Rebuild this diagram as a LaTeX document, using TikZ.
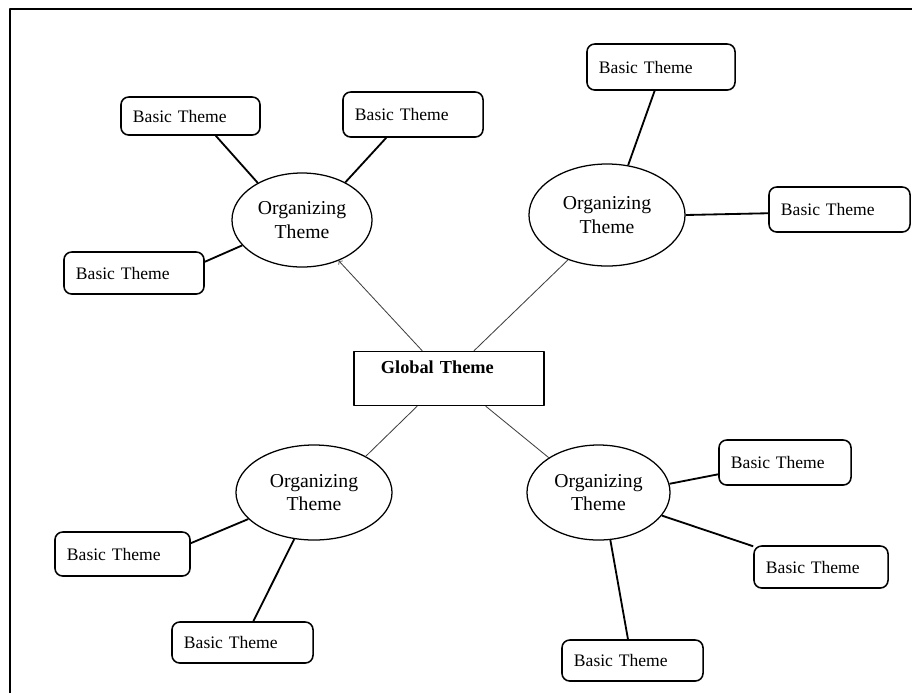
\documentclass[tikz,border=0pt]{standalone}
\usepackage{fontspec}
\setmainfont{Liberation Serif}
\usetikzlibrary{shapes.geometric}
\begin{document}
\begin{tikzpicture}[x=0.025cm, y=-0.025cm, line join=round,
 basic/.style 2 args={draw, line width=1.1pt, rounded corners=5.5pt, align=left, inner xsep=0.3cm, text width=#1, minimum height=#2, font=\fontsize{12.5}{14}\selectfont},
 org/.style={draw, ellipse, line width=0.9pt, inner sep=0pt, align=center, font=\fontsize{14}{16.5}\selectfont},
 link/.style={line width=1.3pt},
 thinlink/.style={line width=0.6pt, black!75}]
\useasboundingbox (0,0) rectangle (912,693);
\draw[line width=1.4pt] (10,693) -- (10,9) -- (912,9);

\node[draw, line width=0.9pt, align=left, text width=3.4cm, inner xsep=0.675cm, inner ysep=0.25cm, text height=0.3cm, text depth=0.55cm, font=\fontsize{13}{15}\selectfont\bfseries] (glob) at (449,378.5) {Global Theme};

\node[org, minimum width=3.5cm, minimum height=2.35cm] (otl) at (302,220) {Organizing\\Theme};
\node[org, minimum width=3.9cm, minimum height=2.55cm] (otr) at (607,215) {Organizing\\Theme};
\node[org, minimum width=3.9cm, minimum height=2.375cm] (obl) at (314,492.5) {Organizing\\Theme};
\node[org, minimum width=3.575cm, minimum height=2.375cm] (obr) at (598.5,492.5) {Organizing\\Theme};

\node[basic={2.875cm}{0.95cm}] (tl1) at (190.5,116) {Basic Theme};
\node[basic={2.9cm}{1.125cm}] (tl2) at (413,114.5) {Basic Theme};
\node[basic={2.9cm}{1.05cm}] (tl3) at (134,273) {Basic Theme};
\node[basic={3.1cm}{1.15cm}] (tr1) at (661,67) {Basic Theme};
\node[basic={2.925cm}{1.125cm}] (tr2) at (839.5,209.5) {Basic Theme};
\node[basic={2.775cm}{1.1cm}] (bl1) at (122.5,554) {Basic Theme};
\node[basic={2.925cm}{1.025cm}] (bl2) at (242.5,642.5) {Basic Theme};
\node[basic={2.7cm}{1.125cm}] (br1) at (785,462.5) {Basic Theme};
\node[basic={2.75cm}{1.05cm}] (br2) at (821,567) {Basic Theme};
\node[basic={2.925cm}{1.025cm}] (br3) at (632.5,660.5) {Basic Theme};

\draw[link] (tl1.-38) -- (otl.140);
\draw[link] (tl2.-139) -- (otl.41);
\draw[link] (tl3.9) -- (otl.203);
\draw[link] (tr1.-105) -- (otr.67);
\draw[link] (tr2.183) -- (otr.0);
\draw[link] (bl1.9) -- (obl.202);
\draw[link] (bl2.63) -- (obl.247);
\draw[link] (br1.190) -- (obr.7);
\draw[link] (br2.163) -- (obr.-20);
\draw[link] (br3.102) -- (obr.-76);

\draw[thinlink, ->] (glob.134) -- (otl.-48);
\draw[thinlink] (glob.48) -- (otr.-131);
\draw[thinlink] (glob.221) -- (obl.35);
\draw[thinlink] (glob.-37) -- (obr.145);
\end{tikzpicture}
\end{document}
